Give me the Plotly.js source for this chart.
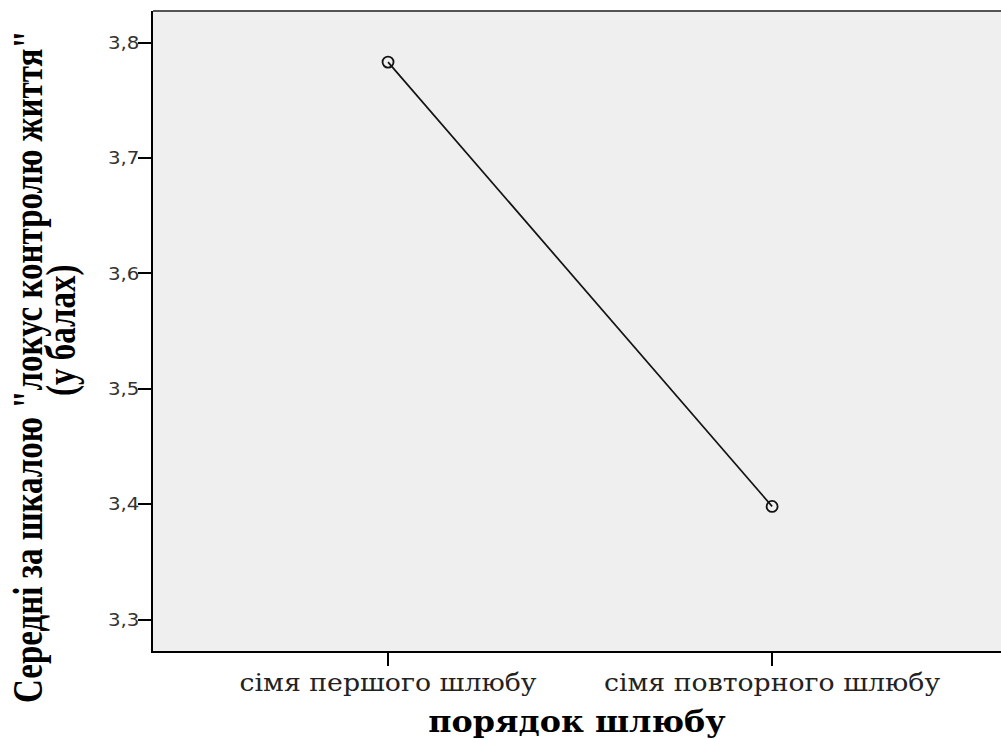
<!DOCTYPE html>
<html>
<head>
<meta charset="utf-8">
<script src="https://cdn.plot.ly/plotly-3.0.1.min.js"></script>
<style>
  html, body { margin: 0; padding: 0; background: #fff; overflow: hidden; }
  #chart { width: 1001px; height: 740px; }
</style>
</head>
<body>
<div id="chart"></div>
<script>
// Mean "locus of life control" score by marriage order
const categories = ['сімя першого шлюбу', 'сімя повторного шлюбу'];
const meanScores = [3.783, 3.398];
const yTickValues = [3.3, 3.4, 3.5, 3.6, 3.7, 3.8];
const yTickLabels = ['3,3', '3,4', '3,5', '3,6', '3,7', '3,8'];
const xAxisTitle = 'порядок шлюбу';
const yTitleLine1 = 'Середні за шкалою "локус контролю життя"';
const yTitleLine2 = '(у балах)';

const trace = {
  type: 'scatter',
  mode: 'lines+markers',
  x: categories,
  y: meanScores,
  line: { color: '#111', width: 1.7 },
  marker: { symbol: 'circle-open', size: 11, color: '#111', line: { width: 1.8 } },
  hoverinfo: 'skip',
  showlegend: false
};

const titleFont = { family: '"Liberation Serif", "Times New Roman", serif', size: 33, color: '#000', weight: 'bold' };

const layout = {
  width: 1001,
  height: 740,
  margin: { l: 153, r: 0, t: 11, b: 89 },
  paper_bgcolor: '#ffffff',
  plot_bgcolor: '#efefef',
  showlegend: false,
  xaxis: {
    type: 'category',
    range: [-0.612, 1.596],
    showgrid: false,
    zeroline: false,
    showline: true,
    linecolor: '#000',
    linewidth: 2,
    ticks: 'outside',
    ticklen: 13,
    tickwidth: 2,
    tickcolor: '#000',
    tickfont: { family: '"DejaVu Serif", serif', size: 25, color: '#222' },
    title: {
      text: xAxisTitle,
      font: { family: '"DejaVu Serif", serif', size: 30, color: '#000', weight: 'bold' },
      standoff: 10
    }
  },
  yaxis: {
    range: [3.2727, 3.8273],
    tickvals: yTickValues,
    ticktext: yTickLabels,
    showgrid: false,
    zeroline: false,
    showline: true,
    linecolor: '#000',
    linewidth: 2,
    ticks: 'outside',
    ticklen: 13,
    tickwidth: 2,
    tickcolor: '#000',
    tickfont: { family: '"DejaVu Sans", sans-serif', size: 18, color: '#333' }
  },
  shapes: [
    { type: 'line', xref: 'paper', yref: 'paper', x0: 0, x1: 1, y0: 1, y1: 1,
      line: { color: '#555', width: 2 } }
  ],
  annotations: [
    { xref: 'paper', yref: 'paper', x: 0, y: 0.4438, xshift: -125, xanchor: 'center', yanchor: 'middle',
      text: yTitleLine1, textangle: -90, showarrow: false, font: titleFont },
    { xref: 'paper', yref: 'paper', x: 0, y: 0.5016, xshift: -91, xanchor: 'center', yanchor: 'middle',
      text: yTitleLine2, textangle: -90, showarrow: false, font: titleFont }
  ]
};

// Widen a text element on screen (scale about a screen-space origin, then shift).
function widen(el, sx, sy, origin, dx, dy) {
  const parent = el.parentNode;
  const r = el.getBoundingClientRect();
  const ox = origin === 'right' ? r.right : r.left + r.width / 2;
  const oy = r.top + r.height / 2;
  const c = parent.getScreenCTM();
  const m = new DOMMatrix([c.a, c.b, c.c, c.d, c.e, c.f]);
  const s = new DOMMatrix().translate(dx || 0, dy || 0).translate(ox, oy).scale(sx, sy).translate(-ox, -oy);
  const mg = m.inverse().multiply(s).multiply(m);
  const g = document.createElementNS('http://www.w3.org/2000/svg', 'g');
  g.setAttribute('transform', `matrix(${mg.a},${mg.b},${mg.c},${mg.d},${mg.e},${mg.f})`);
  parent.insertBefore(g, el);
  g.appendChild(el);
}

Plotly.newPlot('chart', [trace], layout, { staticPlot: true, displayModeBar: false }).then(gd => {
  gd.querySelectorAll('.xtick text').forEach(t => widen(t, 1.07, 1, 'center', 0, -5));
  gd.querySelectorAll('.ytick text').forEach(t => widen(t, 1.1, 1, 'right', 5, 0));
  gd.querySelectorAll('.g-xtitle text').forEach(t => widen(t, 1.06, 1, 'center', 0, 0));
  gd.querySelectorAll('.annotation-text').forEach(t => widen(t, 1.3, 1, 'center', 0, 0));
});
</script>
</body>
</html>
